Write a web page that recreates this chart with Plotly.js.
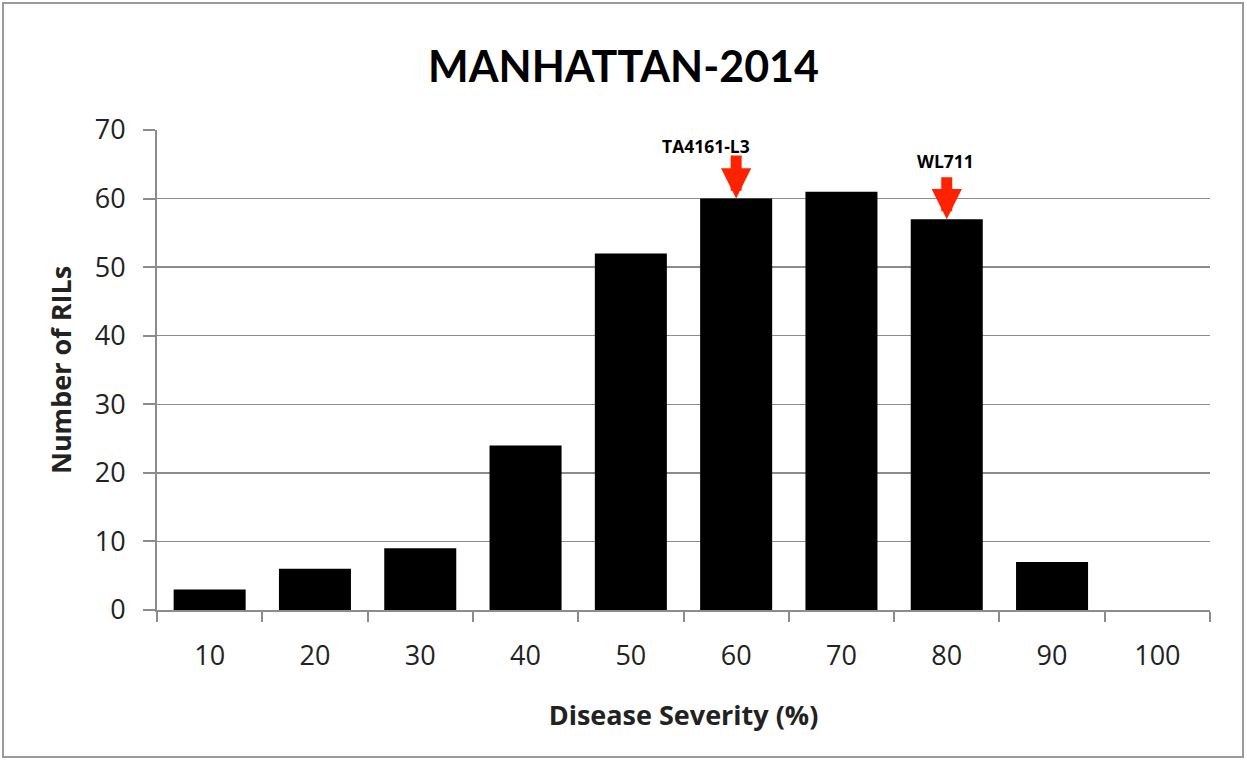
<!DOCTYPE html>
<html><head><meta charset="utf-8">
<script src="https://cdn.plot.ly/plotly-3.0.1.min.js"></script>
<style>html,body{margin:0;padding:0;background:#fff}#chart{width:1247px;height:760px}</style>
</head><body><div id="chart"></div>
<script>
const categories = ["10","20","30","40","50","60","70","80","90","100"];
const counts = [3, 6, 9, 24, 52, 60, 61, 57, 7, 0];
const markedLines = ["TA4161-L3", "WL711"];
const markedCategories = ["60", "80"];
const yTicks = [0,10,20,30,40,50,60,70];

const trace = {
  type: 'bar', x: categories, y: counts,
  marker: {color: '#000000'}, hoverinfo: 'x+y'
};
const arrowStyle = [{ay: -45, tx: -30, ty: 53}, {ay: -44, tx: -1, ty: 58}];
const ann = [];
markedLines.forEach((name, i) => {
  const idx = categories.indexOf(markedCategories[i]);
  const v = counts[idx];
  const s = arrowStyle[i];
  ann.push({
    x: idx, y: v, xref: 'x', yref: 'y', text: ' ',
    showarrow: true, ax: 0, ay: s.ay,
    arrowcolor: '#ff2200', arrowwidth: 11, arrowhead: 2, arrowsize: 0.55,
    standoff: 0, font: {size: 1}
  });
  ann.push({
    x: idx, y: v, xref: 'x', yref: 'y', text: '<b>' + name + '</b>',
    showarrow: false, xshift: s.tx, yshift: s.ty, xanchor: 'center', yanchor: 'middle',
    font: {family: 'Open Sans, sans-serif', size: 17.5, color: '#000'}
  });
});
const pw = 1247 - 157 - 37, ph = 760 - 130 - 150;
const layout = {
  width: 1247, height: 760,
  margin: {l: 157, r: 37, t: 130, b: 150},
  paper_bgcolor: '#fff', plot_bgcolor: '#fff',
  title: {text: '<b>MANHATTAN-2014</b>', x: 0.5, xanchor: 'center', y: 0.912, yanchor: 'middle',
          font: {family: 'Lato, Open Sans, sans-serif', size: 43, color: '#000'}},
  bargap: 0.316,
  showlegend: false,
  xaxis: {type: 'category', range: [-0.5, 9.5], showgrid: false, showline: true, linecolor: '#8c8c8c', linewidth: 2,
          ticks: 'outside', tickson: 'boundaries', ticklen: 10, tickwidth: 2, tickcolor: '#8c8c8c',
          tickangle: 0, ticklabelstandoff: 21,
          tickfont: {family: 'Open Sans, sans-serif', size: 27, color: '#222'},
          title: {text: '<b>Disease Severity (%)</b>', standoff: 34,
                  font: {family: 'Open Sans, sans-serif', size: 27, color: '#222'}}},
  yaxis: {range: [0, 70], tickvals: yTicks, showgrid: true, gridcolor: '#8c8c8c', gridwidth: 1.5,
          showline: true, linecolor: '#8c8c8c', linewidth: 2, zeroline: false,
          ticks: 'outside', ticklen: 12, tickwidth: 2, tickcolor: '#8c8c8c', ticklabelstandoff: 12,
          tickfont: {family: 'Open Sans, sans-serif', size: 27, color: '#222'},
          title: {text: '<b>Number of RILs</b>', standoff: 15,
                  font: {family: 'Open Sans, sans-serif', size: 27, color: '#222'}}},
  annotations: ann,
  shapes: [{type: 'rect', xref: 'paper', yref: 'paper',
            x0: (3 - 157) / pw, x1: (1243 - 157) / pw, y0: (610 - 757) / ph, y1: (610 - 3) / ph,
            line: {color: '#9a9a9a', width: 2}, fillcolor: 'rgba(0,0,0,0)'}]
};
Plotly.newPlot('chart', [trace], layout, {displayModeBar: false, staticPlot: true});
</script></body></html>
